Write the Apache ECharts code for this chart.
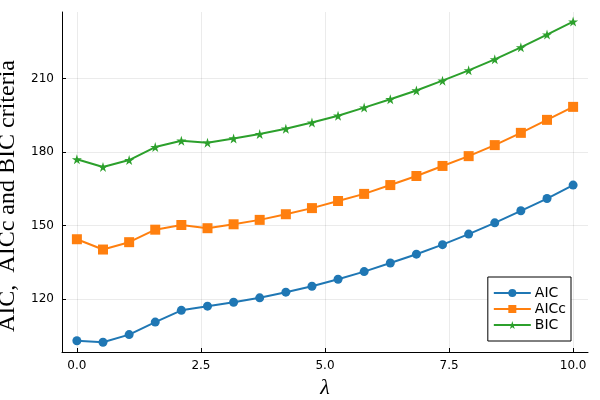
<!DOCTYPE html>
<html>
<head>
<meta charset="utf-8">
<script src="https://cdn.jsdelivr.net/npm/echarts@6/dist/echarts.min.js"></script>
<style>html,body{margin:0;padding:0;background:#fff}#c{width:600px;height:400px}</style>
</head>
<body>
<div id="c"></div>
<script>
const lambdas = [0, 0.526, 1.053, 1.579, 2.105, 2.632, 3.158, 3.684, 4.211, 4.737, 5.263, 5.789, 6.316, 6.842, 7.368, 7.895, 8.421, 8.947, 9.474, 10];
const aic  = [103.0, 102.4, 105.5, 110.6, 115.4, 117.1, 118.7, 120.5, 122.8, 125.2, 128.1, 131.2, 134.7, 138.3, 142.2, 146.5, 151.1, 156.0, 161.0, 166.5];
const aicc = [144.4, 140.2, 143.2, 148.3, 150.2, 148.9, 150.5, 152.3, 154.6, 157.1, 160.0, 162.9, 166.5, 170.2, 174.3, 178.3, 182.8, 187.8, 193.1, 198.4];
const bic  = [177.0, 173.9, 176.7, 182.0, 184.6, 183.8, 185.5, 187.3, 189.5, 192.0, 194.8, 198.1, 201.5, 205.1, 209.1, 213.3, 217.8, 222.7, 227.9, 233.2];
const xTicks = [0, 2.5, 5, 7.5, 10];
const yTicks = [120, 150, 180, 210];

const star = 'path://M50,0 L61,35 L98,35 L68,57 L79,91 L50,70 L21,91 L32,57 L2,35 L39,35 Z';
const pairs = arr => lambdas.map((x, i) => [x, arr[i]]);

const chart = echarts.init(document.getElementById('c'), null, {renderer: 'canvas'});
const axisCommon = {
  axisLine: {show: true, onZero: false, lineStyle: {color: '#000', width: 1}},
  axisTick: {show: true, inside: true, length: 4, lineStyle: {color: '#000'}},
  splitLine: {show: true, lineStyle: {color: 'rgba(0,0,0,0.08)', width: 1}},
  axisLabel: {color: '#000', fontFamily: 'DejaVu Sans', fontSize: 12}
};
chart.setOption({
  animation: false,
  backgroundColor: '#fff',
  grid: {left: 62, right: 12, top: 12, bottom: 48, containLabel: false, outerBoundsMode: 'none'},
  xAxis: {
    type: 'value', min: -0.3, max: 10.3,
    name: 'λ', nameLocation: 'middle', nameGap: 18,
    nameTextStyle: {fontFamily: 'Liberation Serif', fontStyle: 'italic', fontSize: 22, color: '#000'},
    ...axisCommon,
    axisTick: {...axisCommon.axisTick, customValues: xTicks},
    axisLabel: {...axisCommon.axisLabel, customValues: xTicks, formatter: v => v.toFixed(1), margin: 8}
  },
  yAxis: {
    type: 'value', min: 98.4, max: 237.1,
    name: 'AIC,  AICc and BIC criteria', nameLocation: 'middle', nameGap: 34,
    nameTextStyle: {fontFamily: 'Liberation Serif', fontSize: 24, color: '#000', padding: [0, 28, 0, 0]},
    ...axisCommon,
    axisTick: {...axisCommon.axisTick, customValues: yTicks},
    axisLabel: {...axisCommon.axisLabel, customValues: yTicks, margin: 8}
  },
  legend: {
    right: 29, bottom: 59, orient: 'vertical',
    backgroundColor: '#fff', borderColor: '#000', borderWidth: 1, borderRadius: 0,
    padding: [8, 5, 8, 5], itemGap: 0, itemWidth: 37, itemHeight: 10,
    textStyle: {fontFamily: 'DejaVu Sans', fontSize: 14, color: '#000', padding: [0, 0, 0, -1], lineHeight: 16},
    data: ['AIC', 'AICc', 'BIC']
  },
  series: [
    {name: 'AIC', type: 'line', data: pairs(aic), symbol: 'circle', symbolSize: 9,
     lineStyle: {width: 2, color: '#1f77b4'}, itemStyle: {color: '#1f77b4'}},
    {name: 'AICc', type: 'line', data: pairs(aicc), symbol: 'rect', symbolSize: 10,
     lineStyle: {width: 2, color: '#ff7f0e'}, itemStyle: {color: '#ff7f0e'}},
    {name: 'BIC', type: 'line', data: pairs(bic), symbol: star, symbolSize: 10,
     lineStyle: {width: 2, color: '#2ca02c'}, itemStyle: {color: '#2ca02c'}}
  ]
});
</script>
</body>
</html>
